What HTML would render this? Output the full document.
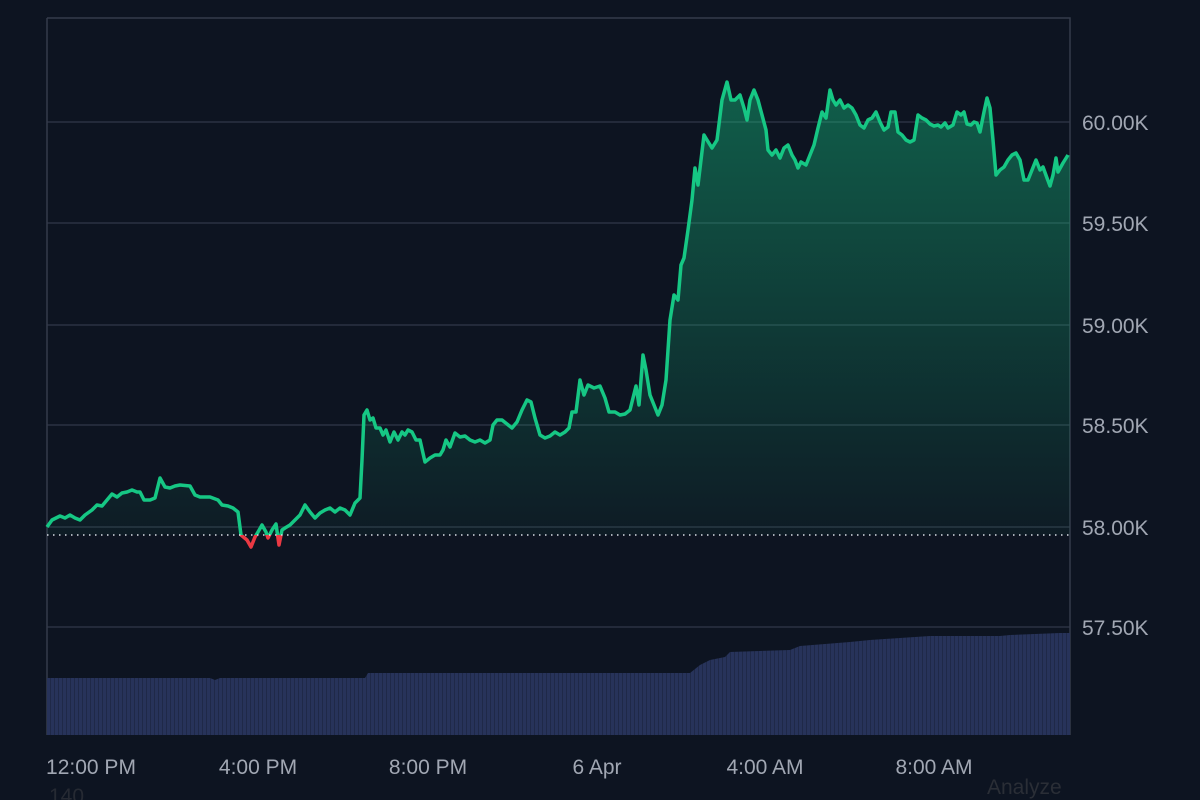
<!DOCTYPE html>
<html><head><meta charset="utf-8"><style>
html,body{margin:0;padding:0;background:#0d1421;}
svg{display:block;font-family:"Liberation Sans",sans-serif;}
</style></head><body>
<svg width="1200" height="800" viewBox="0 0 1200 800" xmlns="http://www.w3.org/2000/svg">
<defs>
<linearGradient id="g" x1="0" y1="80" x2="0" y2="535" gradientUnits="userSpaceOnUse">
<stop offset="0" stop-color="#16c784" stop-opacity="0.42"/>
<stop offset="1" stop-color="#16c784" stop-opacity="0.04"/>
</linearGradient>
<clipPath id="above"><rect x="0" y="0" width="1200" height="535"/></clipPath>
<clipPath id="below"><rect x="0" y="535" width="1200" height="100"/></clipPath>
<pattern id="stripes" x="47" y="0" width="4" height="10" patternUnits="userSpaceOnUse">
<rect x="0" y="0" width="3" height="10" fill="#27335a"/><rect x="3" y="0" width="1" height="10" fill="#1f2948"/>
</pattern>
</defs>
<rect width="1200" height="800" fill="#0d1421"/>
<g stroke="#2b3242" stroke-width="1.5">
<line x1="47" y1="122" x2="1070" y2="122"/>
<line x1="47" y1="223" x2="1070" y2="223"/>
<line x1="47" y1="325" x2="1070" y2="325"/>
<line x1="47" y1="425" x2="1070" y2="425"/>
<line x1="47" y1="527" x2="1070" y2="527"/>
<line x1="47" y1="627" x2="1070" y2="627"/>
</g>
<path d="M47,18 H1070 V735 M47,18 V735" fill="none" stroke="#343b4b" stroke-width="1.5"/>
<polygon fill="url(#stripes)" points="47,735 47,678 210,678 215,680 220,678 365,678 368,673 690,673 700,665 710,660 725,657 730,652 790,650 800,646 850,642 870,640 900,638 930,636 1000,636 1010,635 1060,633 1070,633 1070,735"/>
<g id="ln">
<polyline id="pl" fill="none" stroke-width="3.5" stroke-linejoin="round" points="47,527 52,520 60,516 65,518 70,515 75,518 80,520 85,515 92,510 97,505 102,506 107,500 112,494 117,497 122,493 127,492 132,490 137,492 140,492 144,500 150,500 155,498 160,478 165,487 170,488 175,486 180,485 190,486 195,495 200,497 210,497 218,500 222,505 228,506 233,508 238,512 241,535 247,540 251,547 255,537 258,532 262,525 266,532 268,538 272,530 276,524 279,545 282,530 285,528 290,525 295,520 300,515 305,505 310,512 315,518 320,513 325,510 330,508 335,512 340,508 345,510 350,515 355,503 360,498 362,460 364,415 367,410 370,420 373,418 376,428 380,428 383,435 386,430 390,442 394,432 398,440 402,432 405,435 408,430 412,432 416,440 420,440 425,462 430,458 435,455 440,455 443,450 446,440 450,447 455,433 460,437 465,436 470,440 475,442 480,440 485,443 490,440 493,425 497,420 502,420 507,424 512,428 517,422 522,410 527,400 531,402 535,418 540,435 545,438 550,436 555,432 560,435 565,432 569,428 572,412 576,412 580,380 584,395 588,385 594,388 600,386 605,398 609,412 615,412 620,415 625,414 630,410 633,398 636,386 639,405 643,355 646,370 650,395 654,405 658,415 662,405 666,380 670,320 674,295 678,300 681,265 684,258 688,230 692,200 695,168 698,185 701,160 704,135 707,140 712,148 717,140 722,100 727,82 731,100 735,100 740,95 744,108 747,120 750,100 754,90 758,100 762,115 766,130 768,150 772,155 776,150 780,158 784,148 788,145 792,155 795,160 798,168 801,162 806,165 810,155 814,145 818,128 822,112 826,118 830,90 833,100 836,105 840,100 844,108 848,105 852,108 856,115 860,125 864,128 868,120 872,118 876,112 880,122 884,130 888,127 891,112 895,112 898,132 902,135 906,140 910,142 914,140 918,115 922,118 926,120 930,124 934,126 938,125 941,127 945,123 948,128 953,125 957,112 961,115 964,112 967,124 971,125 974,122 977,123 980,132 984,112 987,98 990,108 993,140 996,175 1000,170 1004,167 1008,160 1012,155 1016,153 1020,160 1024,180 1028,180 1032,170 1036,160 1040,170 1043,167 1047,178 1050,186 1053,175 1056,158 1058,172 1063,163 1068,155"/>
</g>
<polygon clip-path="url(#above)" fill="url(#g)" points="47,535 47,527 52,520 60,516 65,518 70,515 75,518 80,520 85,515 92,510 97,505 102,506 107,500 112,494 117,497 122,493 127,492 132,490 137,492 140,492 144,500 150,500 155,498 160,478 165,487 170,488 175,486 180,485 190,486 195,495 200,497 210,497 218,500 222,505 228,506 233,508 238,512 241,535 247,540 251,547 255,537 258,532 262,525 266,532 268,538 272,530 276,524 279,545 282,530 285,528 290,525 295,520 300,515 305,505 310,512 315,518 320,513 325,510 330,508 335,512 340,508 345,510 350,515 355,503 360,498 362,460 364,415 367,410 370,420 373,418 376,428 380,428 383,435 386,430 390,442 394,432 398,440 402,432 405,435 408,430 412,432 416,440 420,440 425,462 430,458 435,455 440,455 443,450 446,440 450,447 455,433 460,437 465,436 470,440 475,442 480,440 485,443 490,440 493,425 497,420 502,420 507,424 512,428 517,422 522,410 527,400 531,402 535,418 540,435 545,438 550,436 555,432 560,435 565,432 569,428 572,412 576,412 580,380 584,395 588,385 594,388 600,386 605,398 609,412 615,412 620,415 625,414 630,410 633,398 636,386 639,405 643,355 646,370 650,395 654,405 658,415 662,405 666,380 670,320 674,295 678,300 681,265 684,258 688,230 692,200 695,168 698,185 701,160 704,135 707,140 712,148 717,140 722,100 727,82 731,100 735,100 740,95 744,108 747,120 750,100 754,90 758,100 762,115 766,130 768,150 772,155 776,150 780,158 784,148 788,145 792,155 795,160 798,168 801,162 806,165 810,155 814,145 818,128 822,112 826,118 830,90 833,100 836,105 840,100 844,108 848,105 852,108 856,115 860,125 864,128 868,120 872,118 876,112 880,122 884,130 888,127 891,112 895,112 898,132 902,135 906,140 910,142 914,140 918,115 922,118 926,120 930,124 934,126 938,125 941,127 945,123 948,128 953,125 957,112 961,115 964,112 967,124 971,125 974,122 977,123 980,132 984,112 987,98 990,108 993,140 996,175 1000,170 1004,167 1008,160 1012,155 1016,153 1020,160 1024,180 1028,180 1032,170 1036,160 1040,170 1043,167 1047,178 1050,186 1053,175 1056,158 1058,172 1063,163 1068,155 1070,155 1070,535"/>
<use href="#pl" clip-path="url(#above)" stroke="#16c784"/>
<use href="#pl" clip-path="url(#below)" stroke="#ea3943"/>
<line x1="47" y1="535" x2="1070" y2="535" stroke="#d8dce4" stroke-width="1.5" stroke-dasharray="1.5 4.5"/>
<g fill="#a1a7b3" font-size="21">
<text x="1082" y="130">60.00K</text>
<text x="1082" y="231">59.50K</text>
<text x="1082" y="333">59.00K</text>
<text x="1082" y="433">58.50K</text>
<text x="1082" y="535">58.00K</text>
<text x="1082" y="635">57.50K</text>
<text x="91" y="774" text-anchor="middle">12:00 PM</text>
<text x="258" y="774" text-anchor="middle">4:00 PM</text>
<text x="428" y="774" text-anchor="middle">8:00 PM</text>
<text x="597" y="774" text-anchor="middle">6 Apr</text>
<text x="765" y="774" text-anchor="middle">4:00 AM</text>
<text x="934" y="774" text-anchor="middle">8:00 AM</text>
</g>
<text x="49" y="803" fill="#262a33" font-size="21">140</text>
<text x="987" y="794" fill="#2a2e36" font-size="21">Analyze</text>
</svg>
</body></html>
